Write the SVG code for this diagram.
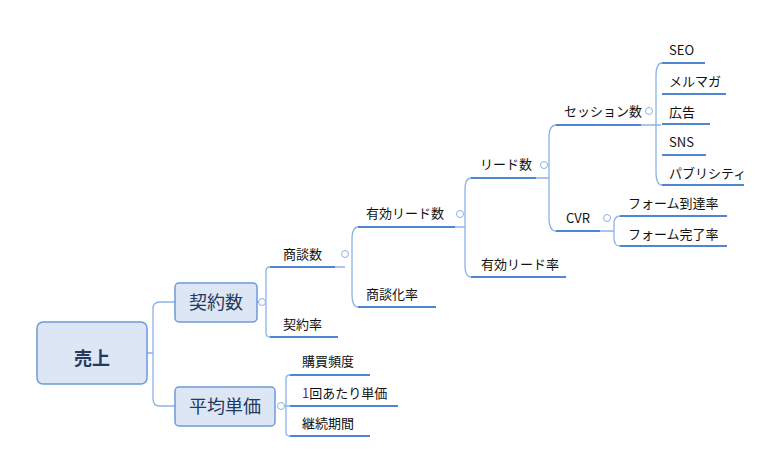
<svg xmlns="http://www.w3.org/2000/svg" width="781" height="468" viewBox="0 0 781 468">
<style>
.t{font-family:"Noto Sans CJK JP","Liberation Sans",sans-serif;font-size:13px;fill:#111}
.b{font-family:"Noto Sans CJK JP","Liberation Sans",sans-serif;font-size:18px;fill:#233a5e}
.u{stroke:#4f86d4;stroke-width:2;fill:none}
.c{stroke:#8db3e6;stroke-width:1.3;fill:none}
.k{fill:#fff;stroke:#8db3e6;stroke-width:1}
.box{fill:#dce6f4;stroke:#6e9bd8;stroke-width:1.5}
</style>
<g id="connectors">
<path class="c" d="M147 353H153M175 302H160Q153 302 153 309V399Q153 406 160 406H175"/>
<path class="c" d="M257 302H266M270 267Q266 267 266 271V333Q266 337 270 337"/>
<path class="c" d="M286 406M290 375Q286 375 286 379V432Q286 436 290 436M281 406H290"/>
<path class="c" d="M335 267H345M358 227Q352 227 352 240V294Q352 307 358 307"/>
<path class="c" d="M455 227H465M471 178Q465 178 465 190V265Q465 277 471 277"/>
<path class="c" d="M536 178H549M556 125Q549 125 549 138V218Q549 231 556 231"/>
<path class="c" d="M641 125H661M662 63Q656 63 656 76V172Q656 185 662 185"/>
<path class="c" d="M600 231H614M620 216Q614 216 614 224V238Q614 246 620 246"/>
</g>
<g id="root"><rect class="box" x="37" y="322" width="110" height="62" rx="6" stroke-width="4"/><text x="92" y="365" text-anchor="middle" class="b" font-size="22" font-weight="bold">売上</text></g>
<g id="n1"><rect class="box" x="175" y="283" width="82" height="39" rx="4"/><text x="216" y="309" text-anchor="middle" class="b">契約数</text><circle class="k" cx="262" cy="302" r="3.5"/></g>
<g id="n2"><rect class="box" x="175" y="387" width="100" height="39" rx="4"/><text x="225" y="413" text-anchor="middle" class="b">平均単価</text><circle class="k" cx="281" cy="406" r="3.5"/></g>
<g id="n3"><text class="t" x="283" y="259">商談数</text><path class="u" d="M270 267H335"/><circle class="k" cx="345" cy="254" r="3.5"/></g>
<g id="n4"><text class="t" x="283" y="329">契約率</text><path class="u" d="M270 337H338"/></g>
<g id="n5"><text class="t" x="366" y="218">有効リード数</text><path class="u" d="M358 227H455"/><circle class="k" cx="460" cy="214" r="3.5"/></g>
<g id="n6"><text class="t" x="366" y="299">商談化率</text><path class="u" d="M358 307H436"/></g>
<g id="n7"><text class="t" x="480" y="169">リード数</text><path class="u" d="M471 178H536"/><circle class="k" cx="544" cy="165" r="3.5"/></g>
<g id="n8"><text class="t" x="481" y="269">有効リード率</text><path class="u" d="M471 277H566"/></g>
<g id="n9"><text class="t" x="564" y="116">セッション数</text><path class="u" d="M556 125H641"/><circle class="k" cx="649" cy="111" r="3.5"/></g>
<g id="n10"><text class="t" x="566" y="223">CVR</text><path class="u" d="M556 231H600"/><circle class="k" cx="607" cy="218" r="3.5"/></g>
<g id="n11"><text class="t" x="669" y="55">SEO</text><path class="u" d="M662 63H705"/></g>
<g id="n12"><text class="t" x="669" y="86">メルマガ</text><path class="u" d="M662 94H726"/></g>
<g id="n13"><text class="t" x="669" y="117">広告</text><path class="u" d="M662 124H710"/></g>
<g id="n14"><text class="t" x="669" y="147">SNS</text><path class="u" d="M662 155H706"/></g>
<g id="n15"><text class="t" x="669" y="178">パブリシティ</text><path class="u" d="M662 185H744"/></g>
<g id="n16"><text class="t" x="628" y="208">フォーム到達率</text><path class="u" d="M620 216H727"/></g>
<g id="n17"><text class="t" x="628" y="239">フォーム完了率</text><path class="u" d="M620 246H727"/></g>
<g id="n18"><text class="t" x="302" y="366">購買頻度</text><path class="u" d="M290 375H370"/></g>
<g id="n19"><text class="t" x="302" y="398"><tspan fill="#6a1b9a">1</tspan>回あたり単価</text><path class="u" d="M290 406H398"/></g>
<g id="n20"><text class="t" x="302" y="428">継続期間</text><path class="u" d="M290 436H370"/></g>
</svg>
